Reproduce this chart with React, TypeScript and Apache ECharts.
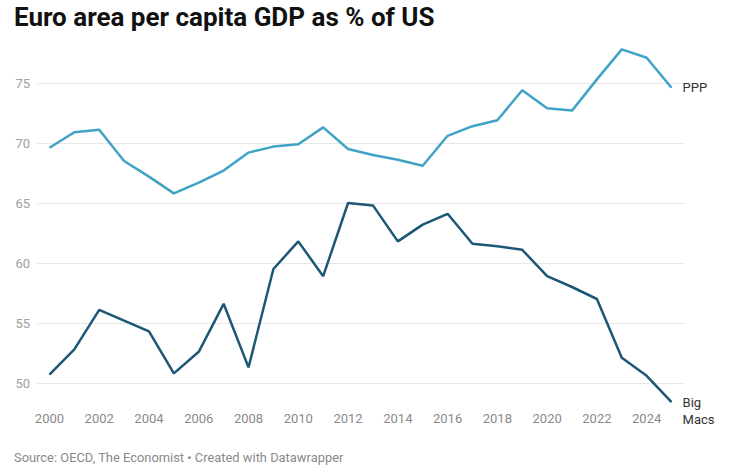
import React, { useEffect, useRef } from "react";
import * as echarts from "echarts";

const years = [
  "2000", "2001", "2002", "2003", "2004", "2005", "2006", "2007", "2008", "2009",
  "2010", "2011", "2012", "2013", "2014", "2015", "2016", "2017", "2018", "2019",
  "2020", "2021", "2022", "2023", "2024", "2025",
];
const ppp = [
  69.6, 70.9, 71.1, 68.5, 67.2, 65.8, 66.7, 67.7, 69.2, 69.7,
  69.9, 71.3, 69.5, 69.0, 68.6, 68.1, 70.6, 71.4, 71.9, 74.4,
  72.9, 72.7, 75.3, 77.8, 77.1, 74.6,
];
const bigMacs = [
  50.7, 52.8, 56.1, 55.2, 54.3, 50.8, 52.6, 56.6, 51.3, 59.5,
  61.8, 58.9, 65.0, 64.8, 61.8, 63.2, 64.1, 61.6, 61.4, 61.1,
  58.9, 58.0, 57.0, 52.1, 50.6, 48.4,
];
const title = "Euro area per capita GDP as % of US";
const footer = "Source: OECD, The Economist • Created with Datawrapper";

const FONT = "Roboto, 'Noto Sans', sans-serif";

export default function App() {
  const ref = useRef<HTMLDivElement>(null);
  useEffect(() => {
    if (!ref.current) return;
    const chart = echarts.init(ref.current, undefined, { renderer: "svg" });
    chart.setOption({
      animation: false,
      backgroundColor: "#ffffff",
      textStyle: { fontFamily: FONT },
      title: [
        {
          text: title,
          left: 9,
          top: 1,
          padding: [3, 5],
          textStyle: { fontFamily: FONT, fontWeight: "bold", fontSize: 26, color: "#111111" },
        },
        {
          text: footer,
          left: 9,
          top: 448,
          padding: [3, 5],
          textStyle: { fontFamily: FONT, fontWeight: "normal", fontSize: 12.9, color: "#8a8a8a" },
        },
      ],
      grid: { left: 37, right: 60, top: 47, height: 360, containLabel: false },
      xAxis: {
        type: "category",
        data: years,
        boundaryGap: true,
        axisLine: { show: false },
        axisTick: { show: false },
        axisLabel: {
          interval: 1,
          color: "#8a8a8a",
          fontSize: 13,
          fontFamily: FONT,
          margin: 5,
        },
        splitLine: { show: false },
      },
      yAxis: {
        type: "value",
        min: 48,
        max: 78,
        splitNumber: 6,
        axisLine: { show: false },
        axisTick: { show: false },
        axisLabel: {
          color: "#a0a0a0",
          fontSize: 13,
          fontFamily: FONT,
          margin: 7,
          showMinLabel: false,
          showMaxLabel: false,
          formatter: (v: number) => (v % 5 === 0 ? String(v) : ""),
        },
        splitLine: {
          show: true,
          showMinLine: false,
          showMaxLine: false,
          lineStyle: { color: "#e6e6e6", width: 1 },
        },
      },
      series: [
        {
          name: "PPP",
          type: "line",
          data: ppp,
          symbol: "none",
          lineStyle: { color: "#3fa3c6", width: 2.5 },
          itemStyle: { color: "#3fa3c6" },
          endLabel: {
            show: true,
            formatter: "PPP",
            color: "#333333",
            fontSize: 13,
            fontFamily: FONT,
            distance: 11,
          },
        },
        {
          name: "Big Macs",
          type: "line",
          data: bigMacs,
          symbol: "none",
          lineStyle: { color: "#1c5775", width: 2.5 },
          itemStyle: { color: "#1c5775" },
          endLabel: {
            show: true,
            formatter: "Big\nMacs",
            color: "#333333",
            fontSize: 13,
            lineHeight: 17,
            fontFamily: FONT,
            distance: 11,
            offset: [0, 8.5],
          },
        },
      ],
    });
    return () => chart.dispose();
  }, []);
  return (
    <div
      ref={ref}
      style={{ position: "fixed", left: 0, top: 0, width: 744, height: 476 }}
    />
  );
}
